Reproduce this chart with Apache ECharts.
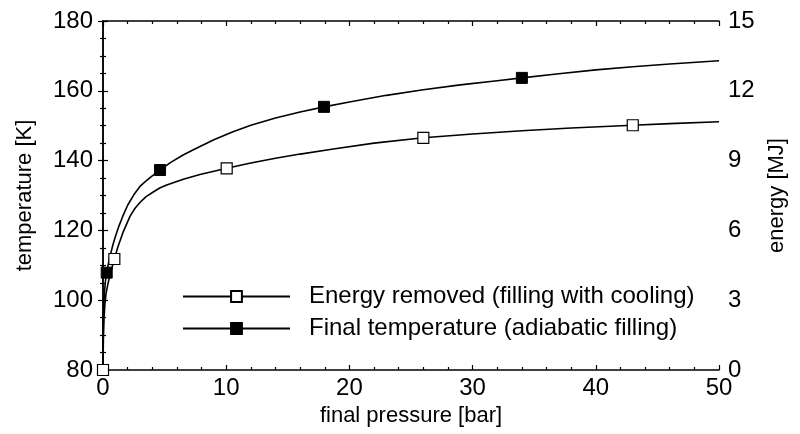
<!DOCTYPE html>
<html>
<head>
<meta charset="utf-8">
<script src="https://cdn.jsdelivr.net/npm/echarts@6/dist/echarts.min.js"></script>
<style>
html,body{margin:0;padding:0;background:#fff;}
#chart{width:800px;height:434px;}
</style>
</head>
<body>
<div id="chart"></div>
<script>
// Final temperature (adiabatic filling) — left axis [K]
var tempCurveP = [0, 0.02, 0.06, 0.12, 0.2, 0.45, 0.6, 0.8, 1.0, 1.3, 1.6, 2.0, 2.5, 3.0, 3.5, 4.0, 5.5, 6.5, 7.5, 9, 10.5, 12, 14, 16, 20, 23, 26, 29, 32, 37, 40, 43, 46, 50];
var tempCurveT = [80, 92, 98, 102.5, 105.5, 110.7, 113.0, 115.8, 118.2, 121.3, 124.0, 127.2, 130.2, 132.6, 134.2, 135.6, 139.5, 141.6, 143.4, 146.0, 148.2, 150.1, 152.2, 153.9, 156.8, 158.7, 160.3, 161.7, 162.9, 164.9, 166.0, 166.9, 167.7, 168.6];
var tempMarkP = [0.3, 4.63, 17.94, 34.0];
var tempMarkT = [107.9, 137.3, 155.4, 163.7];

// Energy removed (filling with cooling) — right axis [MJ]
var energyCurveP = [0.03, 0.08, 0.15, 0.25, 0.4, 0.6, 1.2, 1.65, 2.19, 2.6, 3.0, 3.5, 4.08, 4.6, 5.17, 6.52, 7.87, 12, 14, 16, 18.7, 22, 30, 34, 38, 46, 50];
var energyCurveE = [1.3, 2.2, 2.8, 3.3, 3.7, 4.15, 5.28, 5.95, 6.6, 6.95, 7.2, 7.45, 7.65, 7.82, 7.95, 8.2, 8.4, 8.9, 9.1, 9.28, 9.5, 9.75, 10.14, 10.28, 10.4, 10.59, 10.67];
var energyMarkP = [0, 0.92, 10.04, 26.0, 43.0];
var energyMarkE = [0, 4.77, 8.67, 9.98, 10.52];

var xTicks = {min: 0, max: 50, interval: 10};
var tempTicks = {min: 80, max: 180, interval: 20};
var energyTicks = {min: 0, max: 15, interval: 3};

var seriesNames = ['Energy removed (filling with cooling)', 'Final temperature (adiabatic filling)'];
var axisNames = {x: 'final pressure [bar]', left: 'temperature [K]', right: 'energy [MJ]'};

function merge(cp, cv, mp, mv) {
  var pts = [];
  cp.forEach(function (p, i) { pts.push({value: [p, cv[i]], symbol: 'none'}); });
  mp.forEach(function (p, i) { pts.push({value: [p, mv[i]]}); });
  pts.sort(function (a, b) { return a.value[0] - b.value[0]; });
  return pts;
}

var FONT = '"Liberation Sans", Arial, sans-serif';
var axisLine = {show: true, lineStyle: {color: '#000', width: 1.5}};
var tick = {show: true, inside: true, length: 5, lineStyle: {color: '#000', width: 1.2}};
var minor = {show: true, splitNumber: 5, length: 3, lineStyle: {color: '#000', width: 1.2}};
var label = {color: '#000', fontSize: 24, fontFamily: FONT};
var nameStyle = {color: '#000', fontSize: 22, fontFamily: FONT};

var chart = echarts.init(document.getElementById('chart'), null, {renderer: 'canvas'});
chart.setOption({
  animation: false,
  backgroundColor: '#fff',
  grid: {left: 103, right: 81, top: 21, bottom: 64},
  legend: {
    left: 182, top: 284, orient: 'vertical', padding: 0,
    itemWidth: 107, itemHeight: 13.5, itemGap: 7,
    textStyle: {color: '#000', fontSize: 24, lineHeight: 25, fontFamily: FONT, padding: [0, 0, 0, 14]},
    data: seriesNames
  },
  xAxis: [{
    type: 'value', position: 'bottom', min: xTicks.min, max: xTicks.max, interval: xTicks.interval,
    name: axisNames.x, nameLocation: 'middle', nameGap: 31,
    nameTextStyle: nameStyle,
    axisLine: axisLine, axisTick: tick, minorTick: minor, splitLine: {show: false},
    axisLabel: Object.assign({margin: 6}, label)
  }, {
    type: 'value', position: 'top', min: xTicks.min, max: xTicks.max, interval: xTicks.interval,
    axisLine: axisLine, axisTick: tick, minorTick: minor, splitLine: {show: false},
    axisLabel: {show: false}
  }],
  yAxis: [{
    type: 'value', position: 'left', min: tempTicks.min, max: tempTicks.max, interval: tempTicks.interval,
    name: axisNames.left, nameLocation: 'middle', nameGap: 67,
    nameTextStyle: nameStyle,
    axisLine: axisLine, axisTick: tick, minorTick: Object.assign({}, minor, {splitNumber: 4}), splitLine: {show: false},
    axisLabel: Object.assign({margin: 10}, label)
  }, {
    type: 'value', position: 'right', min: energyTicks.min, max: energyTicks.max, interval: energyTicks.interval,
    name: axisNames.right, nameLocation: 'middle', nameGap: 47, nameRotate: 90,
    nameTextStyle: nameStyle,
    axisLine: axisLine, axisTick: tick, minorTick: Object.assign({}, minor, {splitNumber: 4}), splitLine: {show: false},
    axisLabel: Object.assign({margin: 9}, label)
  }],
  series: [{
    name: seriesNames[0], type: 'line', xAxisIndex: 0, yAxisIndex: 1,
    smooth: false,
    symbol: 'rect', symbolSize: 11, showAllSymbol: true,
    lineStyle: {color: '#000', width: 1.6},
    itemStyle: {color: '#fff', borderColor: '#000', borderWidth: 1.2},
    z: 3,
    data: merge(energyCurveP, energyCurveE, energyMarkP, energyMarkE)
  }, {
    name: seriesNames[1], type: 'line', xAxisIndex: 0, yAxisIndex: 0,
    smooth: false,
    symbol: 'rect', symbolSize: 11, showAllSymbol: true,
    lineStyle: {color: '#000', width: 1.6},
    itemStyle: {color: '#000', borderColor: '#000', borderWidth: 1},
    z: 3,
    data: merge(tempCurveP, tempCurveT, tempMarkP, tempMarkT)
  }]
});
</script>
</body>
</html>
